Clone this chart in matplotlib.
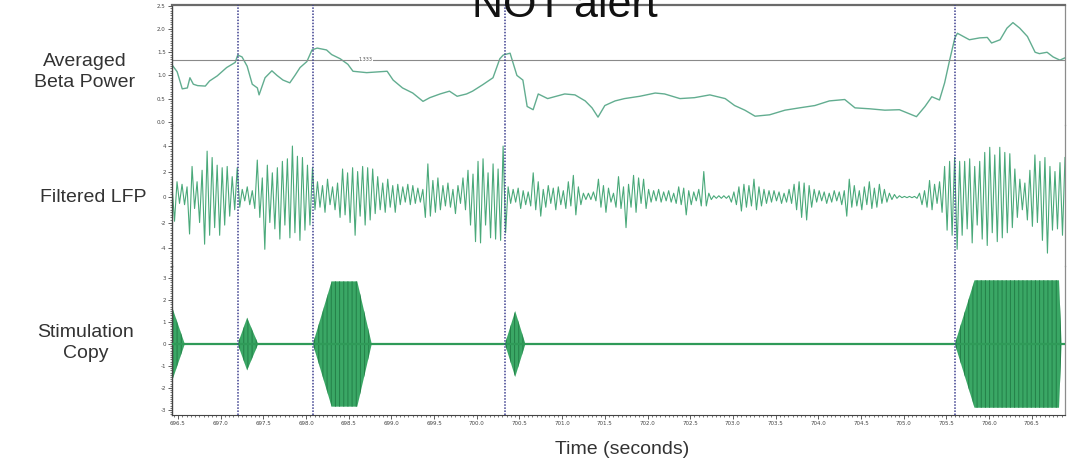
import numpy as np
import matplotlib
matplotlib.use("Agg")
import matplotlib.pyplot as plt
from matplotlib.ticker import MultipleLocator, FormatStrFormatter

plt.rcParams["axes.unicode_minus"] = False

# ---------------- data ----------------
x_limits = (696.43, 706.89)
event_times = [697.20, 698.08, 700.33, 705.60]
threshold = 1.333
threshold_label = "1.333"

beta_time = [696.43, 696.49, 696.55, 696.61, 696.64, 696.68, 696.73, 696.82, 696.87, 696.96,
             697.07, 697.17, 697.20, 697.25, 697.31, 697.37, 697.43, 697.45, 697.52, 697.60,
             697.66, 697.73, 697.81, 697.87, 697.93, 698.01, 698.07, 698.13, 698.24, 698.30,
             698.40, 698.49, 698.55, 698.71, 698.95, 699.02, 699.13, 699.25, 699.37, 699.45,
             699.57, 699.68, 699.77, 699.88, 699.95, 700.07, 700.19, 700.27, 700.31, 700.39,
             700.47, 700.54, 700.59, 700.66, 700.72, 700.83, 700.93, 701.03, 701.15, 701.27,
             701.35, 701.42, 701.50, 701.62, 701.73, 701.91, 702.09, 702.20, 702.38, 702.55,
             702.73, 702.91, 703.02, 703.14, 703.26, 703.43, 703.61, 703.78, 703.96, 704.13,
             704.31, 704.43, 704.60, 704.78, 704.95, 705.15, 705.25, 705.33, 705.42, 705.48,
             705.54, 705.60, 705.63, 705.77, 705.89, 705.98, 706.03, 706.13, 706.21, 706.28,
             706.36, 706.45, 706.54, 706.59, 706.68, 706.75, 706.83, 706.89]
beta_power = [1.23, 1.08, 0.71, 0.73, 0.95, 0.81, 0.78, 0.77, 0.88, 0.99,
              1.17, 1.28, 1.44, 1.40, 1.20, 0.81, 0.73, 0.58, 0.95, 1.10,
              1.00, 0.90, 0.84, 1.00, 1.17, 1.30, 1.55, 1.59, 1.55, 1.45,
              1.36, 1.24, 1.09, 1.06, 1.09, 0.90, 0.73, 0.62, 0.44, 0.52,
              0.60, 0.66, 0.55, 0.60, 0.66, 0.80, 0.95, 1.36, 1.44, 1.48,
              1.00, 0.90, 0.33, 0.26, 0.60, 0.50, 0.55, 0.60, 0.58, 0.45,
              0.30, 0.10, 0.35, 0.45, 0.50, 0.55, 0.62, 0.60, 0.50, 0.52,
              0.58, 0.50, 0.35, 0.25, 0.12, 0.15, 0.25, 0.30, 0.35, 0.45,
              0.48, 0.30, 0.28, 0.25, 0.26, 0.11, 0.33, 0.54, 0.47, 0.84,
              1.34, 1.81, 1.91, 1.77, 1.81, 1.82, 1.70, 1.77, 2.02, 2.14,
              2.02, 1.84, 1.50, 1.47, 1.50, 1.40, 1.33, 1.38]

# successive peaks / troughs of the filtered LFP, read left to right
lfp_extrema = [
    0.9, -1.9, 1.2, -0.5, 1.0, -0.6,
    0.8, -2.9, 2.4, -0.9, 1.2, -2.0, 2.1, -3.7, 3.6, -3.0, 3.1, -2.4, 2.5, -3.0, 2.3, -2.2, 2.4, -1.5, 1.6, -1.0,
    2.3, -0.8, 0.6, -0.3, 0.8, -0.6, 0.5, -0.9,
    2.9, -1.6, 1.5, -4.1, 2.5, -2.0, 1.9, -2.5, 2.3, -3.3, 2.8, -2.2, 3.0, -3.2, 4.0, -2.8, 3.2, -3.4, 3.1, -2.6, 2.5, -2.2,
    2.3, -1.0, 1.2, -0.8, 0.9, -1.2, 1.4, -0.6, 0.8, -1.0, 1.1,
    -1.6, 2.2, -1.4, 1.9, -2.0, 2.3, -3.0, 2.0, -1.5, 2.4, -2.2, 2.3, -1.8, 2.2, -1.3, 1.6, -1.0, 1.1, -1.2, 1.4, -0.8, 0.9,
    -1.2, 1.0, -0.6, 0.8, -0.4, 1.0, -0.6, 0.9, -0.5, 0.7, -0.4, 0.6, -1.6, 2.6,
    -1.5, 1.3, -1.2, 1.5, -1.0, 0.9, -0.7, 1.1, -0.8, 0.6, -1.3, 0.9, -0.5,
    1.5, -1.0, 2.1, -2.2, 1.8, -3.5, 2.8, -3.6, 3.0, -2.2, 1.9, -3.2, 2.6, -3.3, 2.2, -3.4, 4.0,
    -2.8, 0.8, -0.5, 0.6, -0.4, 0.7, -0.9, 0.5, -0.6, 0.4, -0.7, 1.9, -1.0, 1.2, -1.5, 0.6,
    -0.8, 0.9, -0.5, 0.7, -1.0, 0.8, -0.6, 0.5, -0.9, 1.2, -0.7, 1.7, -1.4, 0.8,
    -0.6, 0.3, -0.2, 0.3, -0.2, 0.4, -0.3, 1.4, -0.8, 0.9, -1.2, 0.7, -0.4, 0.3,
    -0.8, 1.6, -0.9, 0.8, -2.4, 1.0, -0.8, 1.7, -1.2, 1.5, -0.5, 1.4, -0.9, 0.6, -0.4, 0.5, -0.3, 0.6,
    -0.4, 0.4, -0.3, 0.5, -0.4, 0.3, -0.5, 0.8, -0.6, 0.7, -1.4, 0.5, -0.6, 0.4, -0.3, 0.6, -0.7, 2.0,
    -0.7, 0.3, -0.2, 0.1, -0.1, 0.1, -0.1, 0.1, -0.1, 0.1,
    -0.4, 0.4, -0.6, 0.8, -1.1, 1.0, -0.8, 0.9, -0.7, 1.4, -1.0, 0.8, -0.7, 0.6, -0.5, 0.5,
    -0.4, 0.5, -0.3, 0.4, -0.5, 0.3, -0.4, 0.6, -0.5, 1.0, -1.0, 1.2, -1.6, 1.1, -1.8, 0.9, -0.8, 0.6, -0.4, 0.5,
    -0.3, 0.4, -0.5, 0.3, -0.4, 0.5, -0.3, 0.4,
    -0.6, 0.5, -1.5, 1.4, -0.8, 0.9, -0.7, 0.5, -1.0, 0.8, -0.6, 1.2, -0.9, 0.7, -0.8, 1.0, -0.5, 0.6, -0.4, 0.3, -0.2, 0.2,
    -0.1, 0.1, -0.05, 0.05, -0.05, 0.05, -0.05, 0.05, -0.1,
    0.3, -0.6, 0.5, -0.8, 1.3, -1.0, 1.0, -0.5, 1.2, -1.2, 2.4, -2.6, 2.8, -3.0, 3.1,
    -4.1, 2.8, -3.0, 2.8, -2.5, 3.0, -3.6, 2.4, -2.2, 2.8, -3.3, 3.5, -3.8, 3.9, -2.8, 3.3, -3.5, 3.9, -3.2, 3.5, -2.8, 3.4, -2.4, 2.2, -1.6,
    1.4, -1.0, 1.1, -1.8, 2.1, -2.3, 3.3, -2.0, 2.8, -3.4, 3.1, -4.4, 2.4, -2.6, 2.0, -2.5, 2.7, -3.0, 3.1,
]

# stimulation bursts: envelope breakpoints (time, amplitude)
stim_bursts = [
    ([696.43, 696.58], [1.7, 0.0]),
    ([697.20, 697.31, 697.44], [0.0, 1.2, 0.0]),
    ([698.08, 698.30, 698.60, 698.77], [0.0, 2.85, 2.85, 0.0]),
    ([700.33, 700.45, 700.57], [0.0, 1.5, 0.0]),
    ([705.60, 705.83, 706.82, 706.85], [0.0, 2.9, 2.9, 0.0]),
]

row_labels = ["Averaged\nBeta Power", "Filtered LFP", "Stimulation\nCopy"]
x_label = "Time (seconds)"
title = "NOT alert"

# ---------------- figure ----------------
W, H = 1069, 462
fig = plt.figure(figsize=(W / 100, H / 100), dpi=100)

def ax_at(top_px, bot_px):
    return fig.add_axes([172 / W, 1 - bot_px / H, (1065 - 172) / W, (bot_px - top_px) / H])

ax1 = ax_at(5, 125)
ax2 = ax_at(125, 266)
ax3 = ax_at(266, 415)

beta_col = "#62ad90"
lfp_col = "#4aa97a"
stim_col = "#3aa765"
ev_col = "#3d3f8f"

ax1.plot(beta_time, beta_power, color=beta_col, lw=1.0)
ax1.axhline(threshold, color="#8a8a8a", lw=0.8)
ax1.text(698.62, threshold, threshold_label, fontsize=3.5, color="#555555",
         va="center", ha="left",
         bbox=dict(facecolor="white", edgecolor="none", pad=0.3))
ax1.set_ylim(-0.07, 2.52)
ax1.yaxis.set_major_locator(MultipleLocator(0.5))
ax1.yaxis.set_minor_locator(MultipleLocator(0.05))
ax1.yaxis.set_major_formatter(FormatStrFormatter("%.1f"))

t_lfp = np.linspace(x_limits[0], x_limits[1], len(lfp_extrema))
ax2.plot(t_lfp, lfp_extrema, color=lfp_col, lw=0.8)
ax2.set_ylim(-5.41, 5.65)
ax2.yaxis.set_major_locator(MultipleLocator(2))
ax2.yaxis.set_minor_locator(MultipleLocator(0.2))

ax3.axhline(0, color="#2f9a58", lw=1.6, zorder=3)
plt.rcParams["hatch.linewidth"] = 0.7
for bt, ba in stim_bursts:
    ba = np.array(ba)
    ax3.fill_between(bt, -ba, ba, facecolor=stim_col, edgecolor="#237f48",
                     hatch="||||", lw=0, zorder=2)
ax3.set_ylim(-3.23, 3.55)
ax3.yaxis.set_major_locator(MultipleLocator(1))
ax3.yaxis.set_minor_locator(MultipleLocator(0.1))
ax3.xaxis.set_major_locator(MultipleLocator(0.5))
ax3.xaxis.set_minor_locator(MultipleLocator(0.05))
ax3.xaxis.set_major_formatter(FormatStrFormatter("%.1f"))

for ax in (ax1, ax2, ax3):
    ax.set_xlim(*x_limits)
    for t in event_times:
        ax.axvline(t, color=ev_col, lw=1.1, ls=(0, (1, 1)), zorder=4)
    ax.patch.set_alpha(0)
    ax.spines["left"].set_color("#444444")
    ax.spines["left"].set_linewidth(1.0)
    ax.spines["right"].set_color("#8c8c8c")
    ax.spines["right"].set_linewidth(0.9)
    ax.spines["top"].set_visible(False)
    ax.spines["bottom"].set_visible(False)
    ax.tick_params(axis="y", which="major", length=3, width=0.6, labelsize=4,
                   colors="#444444", pad=1.5)
    ax.tick_params(axis="y", which="minor", length=1.6, width=0.5, colors="#444444")
    ax.tick_params(axis="x", which="both", bottom=False, labelbottom=False)

ax1.spines["top"].set_visible(True)
ax1.spines["top"].set_color("#6a6a6a")
ax1.spines["top"].set_linewidth(1.6)
ax3.spines["bottom"].set_visible(True)
ax3.spines["bottom"].set_color("#444444")
ax3.tick_params(axis="x", which="major", bottom=True, labelbottom=True, length=3,
                width=0.6, labelsize=4, colors="#444444", pad=1.5)
ax3.tick_params(axis="x", which="minor", bottom=True, length=1.6, width=0.5, colors="#444444")

lab_kw = dict(fontsize=14, color="#333333", family="Liberation Sans", ha="center", va="center",
              linespacing=1.25)
fig.text(85 / W, 1 - 72 / H, row_labels[0], **lab_kw)
fig.text(93 / W, 1 - 197 / H, row_labels[1], **lab_kw)
fig.text(86 / W, 1 - 343 / H, row_labels[2], **lab_kw)
fig.text(622 / W, 1 - 449 / H, x_label, **lab_kw)
# title is partly cut by the top edge, as in the reference
fig.text(565 / W, 1 - 17 / H, title, fontsize=31, color="#111111", family="Liberation Sans",
         ha="center", va="baseline")

fig.savefig("out.png", dpi=100, facecolor="white")
